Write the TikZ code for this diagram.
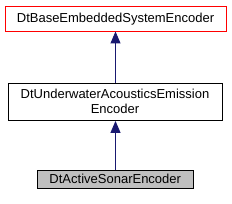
\documentclass[tikz,border=0pt]{standalone}
\usepackage{fontspec}
\setmainfont{Liberation Sans}
\usetikzlibrary{arrows.meta}
\begin{document}
\begin{tikzpicture}[x=1pt,y=-1pt,
  cls/.style={draw=black, fill=white, line width=0.9pt, inner sep=0pt, font=\fontsize{13}{15}\selectfont, align=center},
  inh/.style={draw=midnightblue, line width=0.9pt, {Triangle[length=12pt,width=10pt]}-}]
\definecolor{midnightblue}{RGB}{25,25,112}
\useasboundingbox (0,0) rectangle (232,203);
\node[cls, draw=red, minimum width=221pt, minimum height=24.5pt] (base) at (115.5,18.75) {DtBaseEmbeddedSystemEncoder};
\node[cls, minimum width=214pt, minimum height=37.5pt] (uw) at (115,101.7) {DtUnderwaterAcousticsEmission\\Encoder};
\node[cls, fill=gray!50, minimum width=155.5pt, minimum height=18pt] (as) at (115.25,179) {DtActiveSonarEncoder};
\draw[inh] (base.south -| 115.5,0) -- (uw.north -| 115.5,0);
\draw[inh] (uw.south -| 115.5,0) -- (as.north -| 115.5,0);
\end{tikzpicture}
\end{document}
